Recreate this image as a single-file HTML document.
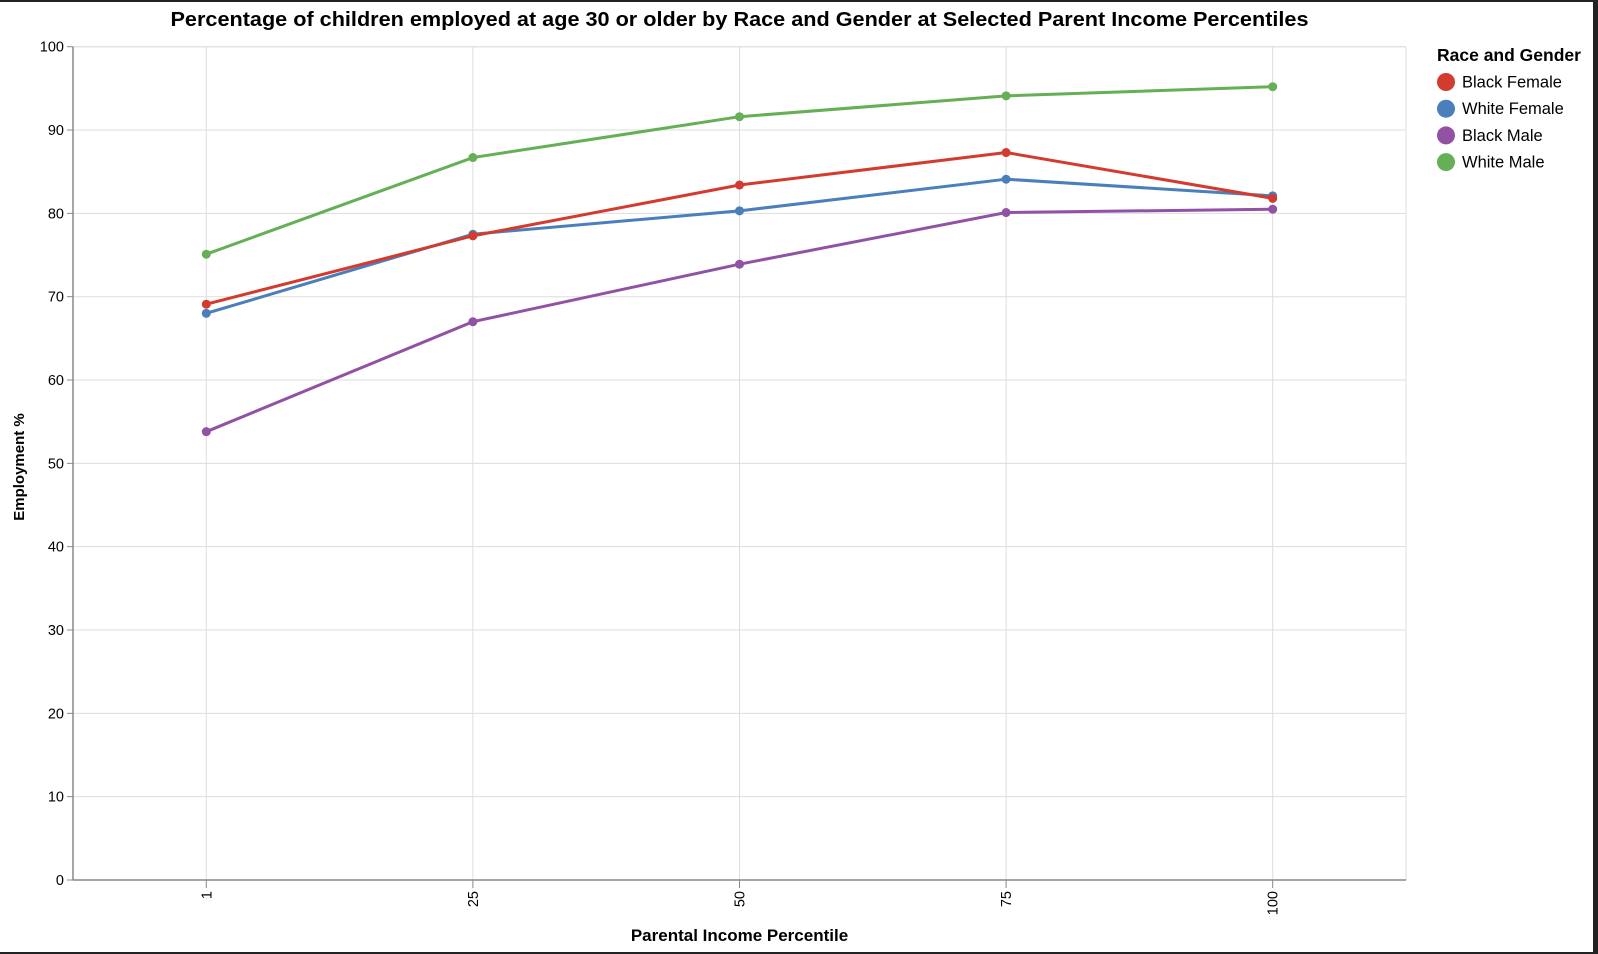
<!DOCTYPE html>
<html><head><meta charset="utf-8"><style>
html,body{margin:0;padding:0;background:#fff;}
svg{display:block;font-family:"Liberation Sans",Arial,sans-serif;}
</style></head><body>
<svg id="chart" width="1598" height="954" viewBox="0 0 1598 954">
<rect x="0" y="0" width="1598" height="954" fill="#fff"/>
<text x="739.5" y="26" text-anchor="middle" font-size="20" font-weight="bold" fill="#000" textLength="1138" lengthAdjust="spacingAndGlyphs">Percentage of children employed at age 30 or older by Race and Gender at Selected Parent Income Percentiles</text>
<g id="grid"></g>
<g id="axes"></g>
<g id="series"></g>
<g id="legend">
<text x="1437" y="61" font-size="17.5" font-weight="bold" fill="#000">Race and Gender</text>
</g>
<text transform="translate(24,467) rotate(-90)" text-anchor="middle" font-size="15" font-weight="bold" fill="#000">Employment %</text>
<text x="739.5" y="941" text-anchor="middle" font-size="17" font-weight="bold" fill="#000">Parental Income Percentile</text>
<rect x="0" y="0" width="1598" height="2" fill="#222"/>
<rect x="1593" y="0" width="5" height="954" fill="#222"/>
<rect x="0" y="952" width="1598" height="2" fill="#222"/>
</svg>
<script>
const categories = ["1","25","50","75","100"];
const seriesNames = ["Black Female","White Female","Black Male","White Male"];
const blackFemale = [69.1, 77.3, 83.4, 87.3, 81.8];
const whiteFemale = [68.0, 77.5, 80.3, 84.1, 82.1];
const blackMale = [53.8, 67.0, 73.9, 80.1, 80.5];
const whiteMale = [75.1, 86.7, 91.6, 94.1, 95.2];
const yTicks = [0,10,20,30,40,50,60,70,80,90,100];
const colors = ["#d33b2f","#4a7fbb","#9152a4","#65af56"];

const NS="http://www.w3.org/2000/svg";
const L=73,R=1406,T=46.7,B=880;
const step=(R-L)/categories.length;
function x(i){return L+step*(i+0.5);}
function y(v){return B-(v/100)*(B-T);}
function mk(tag,attrs,parent){const e=document.createElementNS(NS,tag);for(const k in attrs)e.setAttribute(k,attrs[k]);parent.appendChild(e);return e;}
const grid=document.getElementById('grid'),axes=document.getElementById('axes'),ser=document.getElementById('series'),leg=document.getElementById('legend');

yTicks.forEach(t=>{
  const g=mk('line',{x1:L,x2:R,y1:y(t),y2:y(t),stroke:'#ddd','stroke-width':1},grid);
  
  
  const tk=mk('line',{x1:L-6,x2:L,y1:y(t),y2:y(t),stroke:'#888','stroke-width':1},axes);
  
  
  const lb=mk('text',{x:L-9,y:y(t)+5,'text-anchor':'end','font-size':14.5,fill:'#000'},axes);
  lb.textContent=t;
  
  
});
categories.forEach((c,i)=>{
  const g=mk('line',{x1:x(i),x2:x(i),y1:T,y2:B,stroke:'#ddd','stroke-width':1},grid);
  
  
  const tk=mk('line',{x1:x(i),x2:x(i),y1:B,y2:B+8,stroke:'#888','stroke-width':1},axes);
  
  
  const lb=mk('text',{transform:`translate(${x(i)+5},${B+11}) rotate(-90)`,'text-anchor':'end','font-size':14.5,fill:'#000'},axes);
  lb.textContent=c;
  
  
});
const gr=mk('line',{x1:R,x2:R,y1:T,y2:B,stroke:'#ddd'},grid);


const gt=mk('line',{x1:L,x2:R,y1:T,y2:T,stroke:'#ddd'},grid);


const ya=mk('line',{x1:L,x2:L,y1:T,y2:B,stroke:'#888','stroke-width':1.5},axes);


const xa=mk('line',{x1:L,x2:R,y1:B,y2:B,stroke:'#888','stroke-width':1.5},axes);



const allSeries=[blackFemale,whiteFemale,blackMale,whiteMale];
const drawOrder=[3,2,1,0];
drawOrder.forEach(s=>{
  const vals=allSeries[s];const slug=seriesNames[s].toLowerCase().replace(' ','-');
  const p=mk('polyline',{points:vals.map((v,i)=>x(i)+','+y(v)).join(' '),fill:'none',stroke:colors[s],'stroke-width':3},ser);
  
  
  vals.forEach((v,i)=>{
    const c=mk('circle',{cx:x(i),cy:y(v),r:4.5,fill:colors[s]},ser);
    
    
  });
});
seriesNames.forEach((n,i)=>{
  const cy=82+i*26.7;
  const c=mk('circle',{cx:1446,cy:cy,r:9,fill:colors[i]},leg);
  
  
  const t=mk('text',{x:1462,y:cy+5.5,'font-size':16.5,fill:'#000'},leg);
  t.textContent=n;
  
  
});
</script>
</body></html>
